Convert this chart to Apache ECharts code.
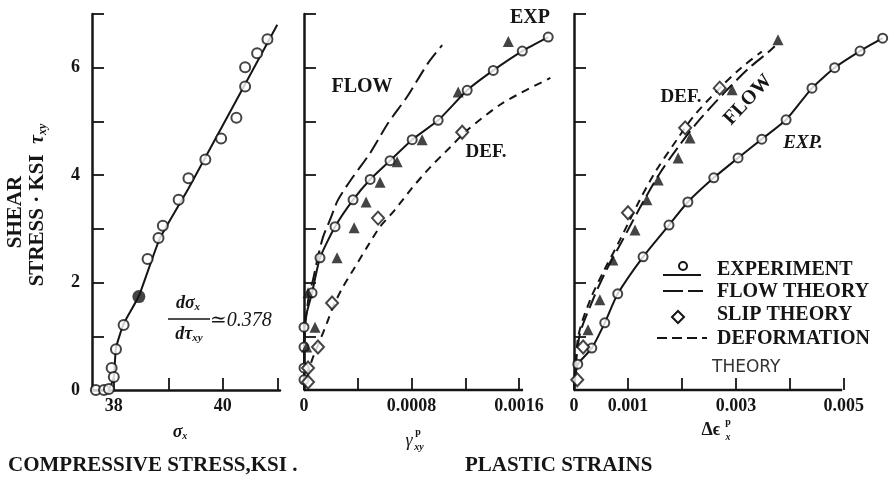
<!DOCTYPE html>
<html><head><meta charset="utf-8">
<script src="https://cdn.jsdelivr.net/npm/echarts@6/dist/echarts.min.js"></script>
<style>html,body{margin:0;padding:0;background:#fff}#c{width:893px;height:481px}</style>
</head><body><div id="c"></div>
<script>
// ---------- tick / label values ----------
const yTickValues = [0,1,2,3,4,5,6,7];
const p1YLabels = [0,2,4,6];
const p1XTicks = [38,39,40,41];
const p1XLabels = [38,40];
const p2XTicks = [0.0004,0.0008,0.0012,0.0016];
const p2XLabels = [0,0.0008,0.0016];
const p3XTicks = [0.001,0.002,0.003,0.004,0.005];
const p3XLabels = [0,0.001,0.003,0.005];
const p2AxisExtent = [[0,0],[0.00163,0]];
const p3AxisExtent = [[0,0],[0.00497,0]];

// ---------- panel 1 : sigma_x vs tau_xy ----------
const p1ExpCircles = [[40.82,6.53],[40.63,6.27],[40.41,6.01],[40.41,5.65],[40.25,5.07],[39.97,4.68],[39.68,4.29],[39.37,3.94],[39.19,3.54],[38.90,3.06],[38.82,2.83],[38.62,2.44],[38.18,1.21],[38.04,0.76],[37.96,0.41],[38.0,0.24],[37.67,0],[37.82,0],[37.91,0.02]];
const p1ExpFilled = [[38.46,1.74]];
const p1ExpLine = [[37.70,0],[37.91,0.02],[38.0,0.24],[38.04,0.78],[38.18,1.23],[38.46,1.75],[38.84,2.81],[39.37,3.75],[41.0,6.8]];

// ---------- panel 2 : gamma_xy^p ----------
const p2ExpCircles = [[0.001817,6.57],[0.001624,6.31],[0.001408,5.95],[0.001214,5.58],[0.000998,5.02],[0.000805,4.66],[0.00064,4.27],[0.000492,3.92],[0.000365,3.54],[0.000231,3.04],[0.000119,2.46],[0.00006,1.81],[0,1.17],[0,0.8],[0,0.41],[0,0.19]];
const p2ExpLine = [[0,0],[0,0.8],[0,1.17],[0.00006,1.81],[0.000119,2.46],[0.000231,3.04],[0.000365,3.54],[0.000492,3.92],[0.00064,4.27],[0.000805,4.66],[0.000998,5.02],[0.001214,5.58],[0.001408,5.95],[0.001624,6.31],[0.001817,6.57]];
const p2Triangles = [[0.00152,6.49],[0.001147,5.55],[0.000879,4.66],[0.000693,4.25],[0.000566,3.87],[0.000462,3.5],[0.000373,3.02],[0.000246,2.46],[0.000082,1.17],[0.00003,1.81],[0.00002,0.8]];
const p2Diamonds = [[0.001177,4.80],[0.000551,3.2],[0.000209,1.62],[0.000104,0.8],[0.00003,0.41],[0.00003,0.15]];
const p2Flow = [[0,0],[0.0000075,1.12],[0.000037,1.77],[0.000067,2.05],[0.000104,2.48],[0.000142,2.85],[0.000194,3.17],[0.000253,3.54],[0.000365,3.97],[0.000492,4.41],[0.000626,4.97],[0.000767,5.46],[0.000924,6.09],[0.001028,6.42]];
const p2Def = [[0,0],[0.00002,0.2],[0.00006,0.56],[0.000115,0.9],[0.000171,1.25],[0.000216,1.55],[0.00029,1.92],[0.000365,2.23],[0.000469,2.66],[0.000566,3.04],[0.000675,3.35],[0.0008,3.75],[0.00094,4.15],[0.00108,4.5],[0.00122,4.85],[0.001483,5.35],[0.001833,5.81]];

// ---------- panel 3 : delta eps_x^p ----------
const p3ExpCircles = [[0.00572,6.55],[0.0053,6.31],[0.00483,6.0],[0.00441,5.62],[0.00393,5.03],[0.00348,4.67],[0.00304,4.32],[0.00259,3.95],[0.00211,3.5],[0.00176,3.07],[0.00128,2.48],[0.00081,1.79],[0.00057,1.25],[0.00033,0.78],[0.00007,0.48]];
const p3ExpLine = [[0,0],[0.00002,0.22],[0.00007,0.48],[0.00033,0.78],[0.00057,1.25],[0.00081,1.79],[0.00128,2.48],[0.00176,3.07],[0.00211,3.5],[0.00259,3.95],[0.00304,4.32],[0.00348,4.67],[0.00393,5.03],[0.00441,5.62],[0.00483,6.0],[0.0053,6.31],[0.00572,6.55]];
const p3Triangles = [[0.00378,6.52],[0.00293,5.59],[0.00215,4.69],[0.00193,4.32],[0.00156,3.91],[0.00135,3.54],[0.00113,2.98],[0.00072,2.42],[0.00048,1.68],[0.00026,1.12]];
const p3Diamonds = [[0.0027,5.62],[0.00206,4.88],[0.001,3.3],[0.00017,0.8],[0.00006,0.19]];
const p3Flow = [[0,0],[0.0001,1.0],[0.00035,1.68],[0.0006,2.23],[0.0009,2.79],[0.00128,3.5],[0.0016,4.05],[0.00195,4.55],[0.0023,5.0],[0.0028,5.55],[0.00325,6.0],[0.00359,6.28],[0.00372,6.4]];
const p3Def = [[0,0],[0.00008,1.0],[0.0003,1.68],[0.00056,2.23],[0.00085,2.79],[0.0012,3.5],[0.0015,4.05],[0.0019,4.65],[0.00222,5.1],[0.0027,5.62],[0.0031,6.0],[0.00348,6.3]];

// ---------- styles ----------
const INK = '#151515';
const SERIF = '"Liberation Serif","DejaVu Serif",serif';
const SANS = '"DejaVu Sans","Liberation Sans",sans-serif';
const tickFont = {fontFamily: SERIF, fontWeight: 'bold', fontSize: 18, color: INK};

function xAx(gi, min, max, ticks, labels, fmt, showLine) {
  return {
    type: 'value', gridIndex: gi, min: min, max: max,
    axisLine: {show: showLine, onZero: false, lineStyle: {color: INK, width: 2.5}},
    axisTick: {show: true, inside: true, length: 12, customValues: ticks, lineStyle: {color: INK, width: 1.8}},
    axisLabel: Object.assign({show: true, margin: 7, customValues: labels, formatter: fmt}, tickFont),
    splitLine: {show: false}
  };
}
function yAx(gi, labels) {
  return {
    type: 'value', gridIndex: gi, min: 0, max: 7,
    axisLine: {show: true, onZero: false, lineStyle: {color: INK, width: 2.5}},
    axisTick: {show: true, inside: true, length: 12, customValues: yTickValues, lineStyle: {color: INK, width: 1.8}},
    axisLabel: Object.assign({show: !!labels, margin: 12, customValues: labels || []}, tickFont),
    splitLine: {show: false}
  };
}
const openCircle = (s) => ({symbol: 'circle', symbolSize: s, itemStyle: {color: '#fff', borderColor: INK, borderWidth: 2}});
const tri = {symbol: 'triangle', symbolSize: 11, itemStyle: {color: INK}};
const dia = {symbol: 'diamond', symbolSize: [12, 13], itemStyle: {color: '#fff', borderColor: INK, borderWidth: 2}};
function sc(gi, data, st) {
  return Object.assign({type: 'scatter', xAxisIndex: gi, yAxisIndex: gi, data: data, z: 5, silent: true}, st);
}
function ln(gi, data, dash, smooth, width) {
  return {type: 'line', xAxisIndex: gi, yAxisIndex: gi, data: data, showSymbol: false, symbol: 'none',
    smooth: smooth || 0, z: 3, silent: true, clip: false,
    lineStyle: {color: INK, width: width || 2, type: dash || 'solid'}};
}
const LONG = [15, 6];
const SHORT = [8, 6];

const chart = echarts.init(document.getElementById('c'), null, {renderer: 'canvas'});
const tx = (x, y, text, o) => ({type: 'text', x: x, y: y, z: 10, silent: true,
  style: Object.assign({text: text, fill: INK, font: 'bold 20px ' + SERIF, align: 'center', verticalAlign: 'middle'}, o || {})});

chart.setOption({
  backgroundColor: '#fff',
  animation: false,
  grid: [
    {left: 92, top: 14, width: 188, height: 376},
    {left: 304, top: 14, width: 250, height: 376},
    {left: 574, top: 14, width: 313, height: 376}
  ],
  xAxis: [
    xAx(0, 37.6, 41.05, p1XTicks, p1XLabels, v => String(Math.round(v)), true),
    xAx(1, 0, 0.00186, p2XTicks, p2XLabels, v => v === 0 ? '0' : v.toFixed(4), false),
    xAx(2, 0, 0.0058, p3XTicks, p3XLabels, v => v === 0 ? '0' : v.toFixed(3), false)
  ],
  yAxis: [yAx(0, p1YLabels), yAx(1, null), yAx(2, null)],
  series: [
    ln(1, p2AxisExtent, 'solid', 0, 2.5),
    ln(2, p3AxisExtent, 'solid', 0, 2.5),
    ln(0, p1ExpLine, 'solid', 0.15),
    sc(0, p1ExpCircles, openCircle(10)),
    sc(0, p1ExpFilled, {symbol: 'circle', symbolSize: 13, itemStyle: {color: INK}}),
    ln(1, p2ExpLine, 'solid', 0.2),
    ln(1, p2Flow, LONG, 0.25),
    ln(1, p2Def, SHORT, 0.25),
    sc(1, p2ExpCircles, openCircle(9)),
    sc(1, p2Triangles, tri),
    sc(1, p2Diamonds, dia),
    ln(2, p3ExpLine, 'solid', 0.2),
    ln(2, p3Flow, LONG, 0.3),
    ln(2, p3Def, SHORT, 0.3),
    sc(2, p3ExpCircles, openCircle(9)),
    sc(2, p3Triangles, tri),
    sc(2, p3Diamonds, dia)
  ],
  graphic: [
    // y-axis title
    {type: 'text', x: 16, y: 212, rotation: Math.PI / 2, silent: true, z: 10,
      style: {text: 'SHEAR', fill: INK, font: 'bold 21px ' + SERIF, align: 'center', verticalAlign: 'middle'}},
    {type: 'text', x: 38, y: 205, rotation: Math.PI / 2, silent: true, z: 10,
      style: {text: 'STRESS · KSI  {t|τ}{s|xy}', fill: INK, font: 'bold 21px ' + SERIF, align: 'center', verticalAlign: 'middle',
        rich: {t: {font: 'italic bold 20px ' + SERIF, fill: INK}, s: {font: 'italic bold 12px ' + SERIF, fill: INK, padding: [10, 0, 0, 0]}}}},
    // slope annotation
    {type: 'text', x: 188, y: 303, silent: true, z: 10, style: {text: '{a|dσ}{b|x}', align: 'center', verticalAlign: 'middle',
      rich: {a: {font: 'italic bold 18px ' + SERIF, fill: INK}, b: {font: 'italic bold 11px ' + SERIF, fill: INK, padding: [8, 0, 0, 0]}}}},
    {type: 'line', silent: true, z: 10, shape: {x1: 168, y1: 319, x2: 210, y2: 319}, style: {stroke: INK, lineWidth: 1.5}},
    {type: 'text', x: 189, y: 334, silent: true, z: 10, style: {text: '{a|dτ}{b|xy}', align: 'center', verticalAlign: 'middle',
      rich: {a: {font: 'italic bold 18px ' + SERIF, fill: INK}, b: {font: 'italic bold 11px ' + SERIF, fill: INK, padding: [8, 0, 0, 0]}}}},
    tx(210, 321, '≃0.378', {font: 'italic 20px ' + SERIF, align: 'left'}),
    // x-axis names
    {type: 'text', x: 180, y: 432, silent: true, z: 10, style: {text: '{a|σ}{b|x}', align: 'center', verticalAlign: 'middle',
      rich: {a: {font: 'italic bold 18px ' + SERIF, fill: INK}, b: {font: 'italic bold 10px ' + SERIF, fill: INK, padding: [8, 0, 0, 0]}}}},
    tx(409, 441, 'γ', {font: 'italic 18px ' + SERIF}),
    tx(418, 432, 'p', {font: 'bold 10px ' + SERIF}),
    tx(419, 447, 'xy', {font: 'italic bold 10px ' + SERIF}),
    tx(711, 430, 'Δϵ', {font: 'bold 18px ' + SERIF}),
    tx(728, 422, 'p', {font: 'bold 10px ' + SERIF}),
    tx(728, 437, 'x', {font: 'italic bold 10px ' + SERIF}),
    // bottom titles
    tx(8, 466, 'COMPRESSIVE STRESS,KSI .', {font: 'bold 21px ' + SERIF, align: 'left'}),
    tx(465, 466, 'PLASTIC STRAINS', {font: 'bold 21px ' + SERIF, align: 'left'}),
    // panel 2 labels
    tx(362, 87, 'FLOW'),
    tx(530, 18, 'EXP'),
    tx(486, 152, 'DEF.', {font: 'bold 19px ' + SERIF}),
    // panel 3 labels
    tx(681, 97, 'DEF.', {font: 'bold 19px ' + SERIF}),
    {type: 'text', x: 748, y: 100, rotation: 0.82, silent: true, z: 10, style: {text: 'FLOW', fill: INK, font: 'bold 20px ' + SERIF, align: 'center', verticalAlign: 'middle'}},
    tx(803, 143, 'EXP.', {font: 'italic bold 19px ' + SERIF}),
    // legend
    {type: 'line', silent: true, z: 10, shape: {x1: 663, y1: 275, x2: 701, y2: 275}, style: {stroke: INK, lineWidth: 2}},
    {type: 'circle', silent: true, z: 11, shape: {cx: 683, cy: 266, r: 4}, style: {fill: '#fff', stroke: INK, lineWidth: 2}},
    tx(717, 270, 'EXPERIMENT', {align: 'left', font: 'bold 20px ' + SERIF}),
    {type: 'line', silent: true, z: 10, shape: {x1: 663, y1: 291, x2: 703, y2: 291}, style: {stroke: INK, lineWidth: 2, lineDash: [20, 5]}},
    tx(717, 292, 'FLOW THEORY', {align: 'left', font: 'bold 20px ' + SERIF}),
    {type: 'polygon', silent: true, z: 10, shape: {points: [[678, 311], [684, 317], [678, 323], [672, 317]]}, style: {fill: '#fff', stroke: INK, lineWidth: 2}},
    tx(717, 315, 'SLIP THEORY', {align: 'left', font: 'bold 20px ' + SERIF}),
    {type: 'line', silent: true, z: 10, shape: {x1: 657, y1: 338, x2: 707, y2: 338}, style: {stroke: INK, lineWidth: 2, lineDash: [10, 5]}},
    tx(717, 339, 'DEFORMATION', {align: 'left', font: 'bold 20px ' + SERIF}),
    tx(712, 368, 'THEORY', {align: 'left', font: '17px ' + SANS, fill: '#333'})
  ]
});
</script></body></html>
